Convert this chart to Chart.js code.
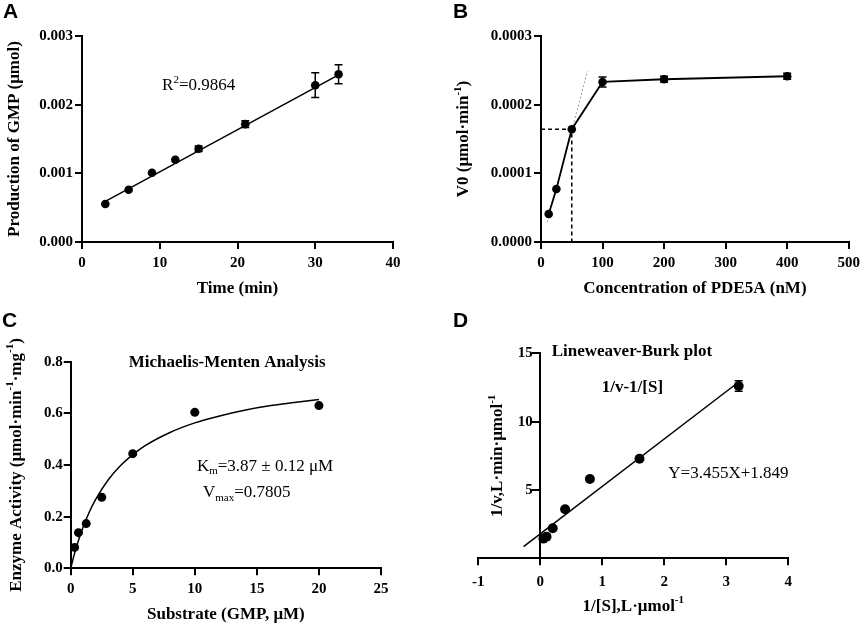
<!DOCTYPE html>
<html>
<head>
<meta charset="utf-8">
<script src="https://cdn.jsdelivr.net/npm/chart.js@4.4.1/dist/chart.umd.min.js"></script>
<style>
  html, body { margin: 0; padding: 0; background: #fff; }
  #wrap { position: relative; width: 865px; height: 624px; overflow: hidden; }
  canvas { position: absolute; }
</style>
</head>
<body>
<div id="wrap">
  <canvas id="chartA" width="432" height="310" style="left:0;top:0"></canvas>
  <canvas id="chartB" width="433" height="310" style="left:432px;top:0"></canvas>
  <canvas id="chartC" width="432" height="314" style="left:0;top:310px"></canvas>
  <canvas id="chartD" width="433" height="314" style="left:432px;top:310px"></canvas>
</div>
<script>
// A - GMP produced over time
const timeMin = [3, 6, 9, 12, 15, 21, 30, 33];
const gmpProduced = [0.000553, 0.000761, 0.001008, 0.001197, 0.001357, 0.001716, 0.002283, 0.002443];
const gmpErr = [0, 0, 0, 0, 0.00004, 0.00005, 0.00018, 0.00014];
const gmpFitX = [3, 33];
const gmpFitY = [0.000591, 0.002433];

// B - V0 vs PDE5A concentration
const pdeConc = [12.5, 25, 50, 100, 200, 400];
const v0 = [0.0000407, 0.0000771, 0.0001643, 0.0002331, 0.000237, 0.0002414];
const v0Err = [0, 0, 0, 0.0000073, 0.0000044, 0.0000044];
const guideX = [0, 50, 50];
const guideY = [0.0001643, 0.0001643, 0];
const tangentX = [10.2, 75.6];
const tangentY = [0.0000286, 0.000249];

// C - Michaelis-Menten
const substrate = [0.3125, 0.625, 1.25, 2.5, 5, 10, 20];
const activity = [0.081, 0.138, 0.173, 0.275, 0.444, 0.604, 0.630];
const mmCurveX = [0, 0.25, 0.5, 1, 1.5, 2, 3, 4, 5, 6, 8, 10, 12, 14, 16, 18, 20];
const mmCurveY = [0, 0.047, 0.089, 0.160, 0.218, 0.266, 0.341, 0.397, 0.440, 0.475, 0.526, 0.563, 0.590, 0.612, 0.629, 0.642, 0.654];

// D - Lineweaver-Burk
const invS = [0.05, 0.1, 0.2, 0.4, 0.8, 1.6, 3.2];
const invV = [1.44, 1.585, 2.20, 3.59, 5.80, 7.29, 12.61];
const invVErr = [0, 0, 0, 0, 0, 0, 0.39];
const lbFitX = [-0.27, 3.2];
const lbFitY = [0.85, 12.90];

const SERIF = "'Liberation Serif', 'Times New Roman', serif";
const SANS = "'Liberation Sans', Arial, sans-serif";
const TICK_FONT = { family: SERIF, size: 15, weight: 'bold' };

const pts = (xs, ys) => xs.map((x, i) => ({ x, y: ys[i] }));

function drawRich(ctx, parts, x, y, o) {
  const size = o.size || 17;
  const weight = o.weight || 'normal';
  const family = o.family || SERIF;
  const fontFor = m => `${weight} ${m ? Math.round(size * 0.64) : size}px ${family}`;
  let w = 0;
  parts.forEach(([t, m]) => { ctx.font = fontFor(m); w += ctx.measureText(t).width; });
  ctx.save();
  ctx.translate(x, y);
  if (o.rotate) ctx.rotate(-Math.PI / 2);
  let cx = o.align === 'center' ? -w / 2 : 0;
  const base = o.middle ? size * 0.33 : 0;
  ctx.textBaseline = 'alphabetic';
  ctx.textAlign = 'left';
  ctx.fillStyle = '#000';
  parts.forEach(([t, m]) => {
    ctx.font = fontFor(m);
    const dy = m === 'sup' ? -size * 0.42 : m === 'sub' ? size * 0.22 : 0;
    ctx.fillText(t, cx, base + dy);
    cx += ctx.measureText(t).width;
  });
  ctx.restore();
}

function textPlugin(items) {
  return {
    id: 'texts',
    afterDraw(chart) {
      const { ctx, chartArea, scales } = chart;
      items.forEach(it => {
        let x, y;
        if (it.at) {
          x = scales.x.getPixelForValue(it.at[0]);
          y = scales.y.getPixelForValue(it.at[1]);
        } else if (it.xTitle !== undefined) {
          x = (chartArea.left + chartArea.right) / 2; y = it.xTitle;
        } else if (it.yTitle !== undefined) {
          x = it.yTitle; y = (chartArea.top + chartArea.bottom) / 2;
        } else {
          x = it.px[0]; y = it.px[1];
        }
        drawRich(ctx, it.parts, x, y, it);
      });
    }
  };
}

const errorBarPlugin = {
  id: 'errorBars',
  afterDatasetsDraw(chart) {
    const { ctx, scales: { x, y } } = chart;
    chart.data.datasets.forEach(ds => {
      if (!ds.errors) return;
      ds.data.forEach((p, i) => {
        const e = ds.errors[i];
        if (!e) return;
        const px = x.getPixelForValue(p.x);
        const top = y.getPixelForValue(p.y + e);
        const bot = y.getPixelForValue(p.y - e);
        ctx.save();
        ctx.strokeStyle = '#000';
        ctx.lineWidth = 1.5;
        ctx.beginPath();
        ctx.moveTo(px, top); ctx.lineTo(px, bot);
        ctx.moveTo(px - 4, top); ctx.lineTo(px + 4, top);
        ctx.moveTo(px - 4, bot); ctx.lineTo(px + 4, bot);
        ctx.stroke();
        ctx.restore();
      });
    });
  }
};

function linAxis(min, max, step, fmt, fit) {
  return {
    type: 'linear', min, max,
    position: fit.pos,
    ticks: { stepSize: step, color: '#000', font: TICK_FONT, padding: fit.pad, callback: fmt, maxRotation: 0, autoSkip: false },
    grid: { drawOnChartArea: false, drawTicks: true, tickLength: 7, color: '#000', lineWidth: 2 },
    border: { display: true, color: '#000', width: 2 },
    afterFit: s => {
      if (fit.w !== undefined) s.width = fit.w;
      if (fit.h !== undefined) s.height = fit.h;
    }
  };
}

const dots = (data, r, errors) => ({
  data, showLine: false, pointRadius: r, pointBackgroundColor: '#000', pointBorderWidth: 0, errors
});
const line = (data, extra) => Object.assign({
  data, showLine: true, pointRadius: 0, borderColor: '#000', borderWidth: 1.5, fill: false
}, extra);

function makeChart(id, datasets, scales, padding, texts) {
  return new Chart(document.getElementById(id), {
    type: 'scatter',
    data: { datasets },
    options: {
      responsive: false,
      animation: false,
      events: [],
      layout: { padding },
      plugins: { legend: { display: false }, tooltip: { enabled: false } },
      scales
    },
    plugins: [errorBarPlugin, textPlugin(texts)]
  });
}

// Panel A
makeChart('chartA', [
  dots(pts(timeMin, gmpProduced), 4.3, gmpErr),
  line(pts(gmpFitX, gmpFitY))
], {
  x: linAxis(0, 40, 10, v => v, { h: 68, pad: 5 }),
  y: linAxis(0, 0.003, 0.001, v => Number(v).toFixed(3), { w: 82, pad: 2 })
}, { left: 0, top: 36, right: 39, bottom: 0 }, [
  { px: [3, 18], parts: [['A']], family: SANS, weight: 'bold', size: 21 },
  { at: [10.3, 0.002214], parts: [['R'], ['2', 'sup'], ['=0.9864']] },
  { xTitle: 287, parts: [['Time (min)']], weight: 'bold', align: 'center', middle: true },
  { yTitle: 13.3, parts: [['Production of GMP (μmol)']], weight: 'bold', align: 'center', middle: true, rotate: true }
]);

// Panel B
makeChart('chartB', [
  dots(pts(pdeConc, v0), 4.3, v0Err),
  line(pts(pdeConc, v0), { borderWidth: 1.8 }),
  line(pts(guideX, guideY), { borderDash: [4, 3], borderWidth: 1.5 }),
  line(pts(tangentX, tangentY), { borderColor: '#9a9a9a', borderWidth: 1, borderDash: [2, 2] })
], {
  x: linAxis(0, 500, 100, v => v, { h: 68, pad: 5 }),
  y: linAxis(0, 0.0003, 0.0001, v => Number(v).toFixed(4), { w: 109, pad: 2 })
}, { left: 0, top: 36, right: 13.3, bottom: 0 }, [
  { px: [21, 18], parts: [['B']], family: SANS, weight: 'bold', size: 21 },
  { xTitle: 287, parts: [['Concentration of PDE5A (nM)']], weight: 'bold', align: 'center', middle: true },
  { yTitle: 30.7, parts: [['V0 (μmol·min'], ['-1', 'sup'], [')']], weight: 'bold', align: 'center', middle: true, rotate: true }
]);

// Panel C
makeChart('chartC', [
  dots(pts(substrate, activity), 4.5),
  line(pts(mmCurveX, mmCurveY), { tension: 0.4, cubicInterpolationMode: 'monotone' })
], {
  x: linAxis(0, 25, 5, v => v, { h: 55.7, pad: 5 }),
  y: linAxis(0, 0.8, 0.2, v => Number(v).toFixed(1), { w: 70.7, pad: 1 })
}, { left: 0, top: 51.7, right: 51, bottom: 0 }, [
  { px: [2, 17], parts: [['C']], family: SANS, weight: 'bold', size: 21 },
  { at: [12.6, 0.778], parts: [['Michaelis-Menten Analysis']], weight: 'bold', align: 'center' },
  { at: [10.17, 0.378], parts: [['K'], ['m', 'sub'], ['=3.87 ± 0.12 μM']] },
  { at: [10.66, 0.275], parts: [['V'], ['max', 'sub'], ['=0.7805']] },
  { xTitle: 303.3, parts: [['Substrate (GMP, μM)']], weight: 'bold', align: 'center', middle: true },
  { yTitle: 15, parts: [['Enzyme Activity (μmol·min'], ['-1', 'sup'], ['·mg'], ['-1', 'sup'], [')']], weight: 'bold', align: 'center', middle: true, rotate: true }
]);

// Panel D - y axis crosses at x = 0; trailing spaces keep labels clear of the tick marks
makeChart('chartD', [
  dots(pts(invS, invV), 5, invVErr),
  line(pts(lbFitX, lbFitY))
], {
  x: linAxis(-1, 4, 1, v => v, { h: 65.7, pad: 7.4 }),
  y: linAxis(0, 15, 5, v => (v === 0 ? '' : v + '  '), { w: 0, pad: 2, pos: { x: 0 } })
}, { left: 46.3, top: 43.3, right: 76.7, bottom: 0 }, [
  { px: [21, 17], parts: [['D']], family: SANS, weight: 'bold', size: 21 },
  { at: [0.184, 14.8], parts: [['Lineweaver-Burk plot']], weight: 'bold' },
  { at: [0.99, 12.19], parts: [['1/v-1/[S]']], weight: 'bold' },
  { at: [2.065, 5.85], parts: [['Y=3.455X+1.849']] },
  { xTitle: 295, parts: [['1/[S],L·μmol'], ['-1', 'sup']], weight: 'bold', align: 'center', middle: true },
  { yTitle: 64.7, parts: [['1/v,L·min·μmol'], ['-1', 'sup']], weight: 'bold', align: 'center', middle: true, rotate: true }
]);
</script>
</body>
</html>
